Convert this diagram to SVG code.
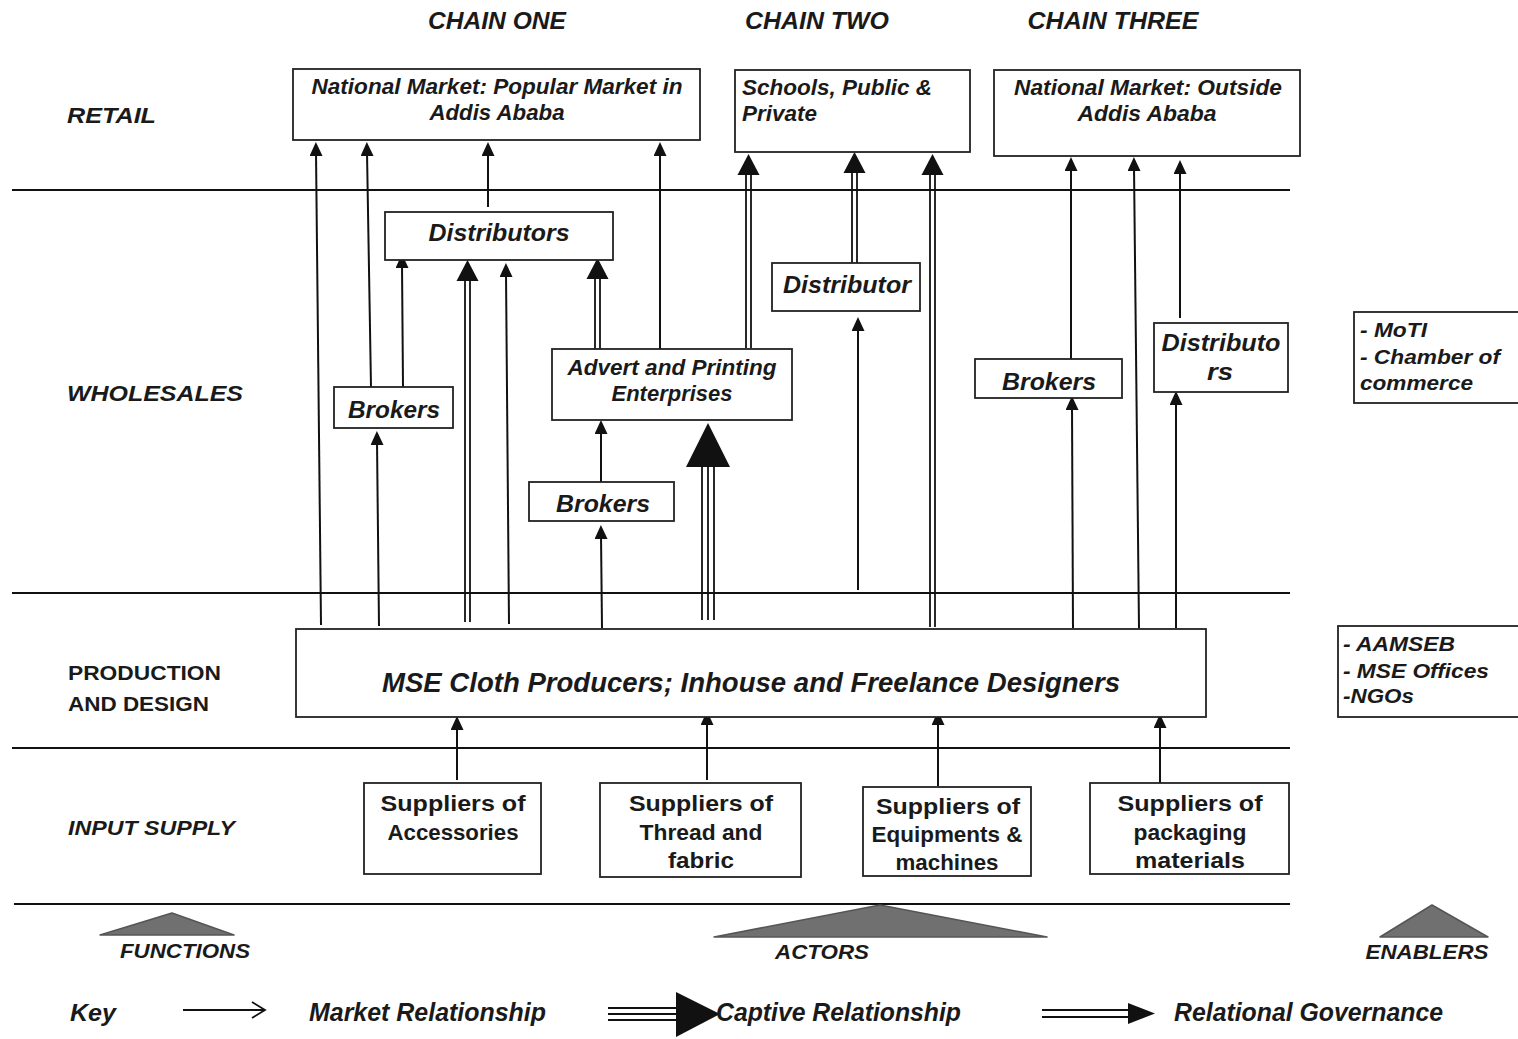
<svg xmlns="http://www.w3.org/2000/svg" xmlns:xlink="http://www.w3.org/1999/xlink" width="1518" height="1039" viewBox="0 0 1518 1039">
<defs>
<style>
text{font-family:"Liberation Sans",Arial,sans-serif;font-weight:bold;fill:#1a1a1a}
.i{font-style:italic}
.m{text-anchor:middle}
.box{fill:#fff;stroke:#222;stroke-width:1.8}
.sep{stroke:#111;stroke-width:2}
.ln{stroke:#111;stroke-width:2;fill:none}
.lt{stroke:#111;stroke-width:1.8;fill:none}
.tri{fill:#707070;stroke:#555;stroke-width:1.5;stroke-linejoin:round}
.ah{fill:#111}
</style>
<marker id="arr" viewBox="0 0 14 13" refX="4" refY="6.5" markerWidth="14" markerHeight="13" orient="auto" markerUnits="userSpaceOnUse"><path d="M0,0 L14,6.5 L0,13 z" fill="#111"/></marker>
<path id="ahm" d="M0,0 L-11,21 L11,21 z"/>
<path id="ahl" d="M0,0 L-22,44 L22,44 z"/>
</defs>
<rect width="1518" height="1039" fill="#fff"/>

<g id="headers">
<text class="i m" x="497" y="29" font-size="24" textLength="138" lengthAdjust="spacingAndGlyphs">CHAIN ONE</text>
<text class="i m" x="817" y="29" font-size="24" textLength="144" lengthAdjust="spacingAndGlyphs">CHAIN TWO</text>
<text class="i m" x="1113" y="29" font-size="24" textLength="171" lengthAdjust="spacingAndGlyphs">CHAIN THREE</text>
</g>

<g id="row-labels">
<text class="i" x="67" y="123" font-size="22" textLength="89" lengthAdjust="spacingAndGlyphs">RETAIL</text>
<text class="i" x="67" y="401" font-size="22" textLength="176" lengthAdjust="spacingAndGlyphs">WHOLESALES</text>
<text x="68" y="680" font-size="21" textLength="153" lengthAdjust="spacingAndGlyphs">PRODUCTION</text>
<text x="68" y="711" font-size="21" textLength="141" lengthAdjust="spacingAndGlyphs">AND DESIGN</text>
<text class="i" x="68" y="835" font-size="21" textLength="167" lengthAdjust="spacingAndGlyphs">INPUT SUPPLY</text>
</g>

<g id="separators">
<line class="sep" x1="12" y1="190" x2="1290" y2="190"/>
<line class="sep" x1="12" y1="593" x2="1290" y2="593"/>
<line class="sep" x1="12" y1="748" x2="1290" y2="748"/>
<line class="sep" x1="14" y1="904" x2="1290" y2="904"/>
</g>

<g id="connectors">
<g class="ln" marker-end="url(#arr)">
<line x1="321" y1="625" x2="316" y2="152"/>
<line x1="371" y1="387" x2="367" y2="152"/>
<line x1="379" y1="626" x2="377" y2="441"/>
<line x1="403" y1="387" x2="402" y2="264"/>
<line x1="488" y1="207" x2="488" y2="152"/>
<line x1="509" y1="624" x2="506" y2="273"/>
<line x1="660" y1="349" x2="660" y2="152"/>
<line x1="601" y1="482" x2="601" y2="430"/>
<line x1="602" y1="628" x2="601" y2="535"/>
<line x1="858" y1="590" x2="858" y2="327"/>
<line x1="1071" y1="359" x2="1071" y2="167"/>
<line x1="1073" y1="628" x2="1072" y2="406"/>
<line x1="1139" y1="628" x2="1134" y2="167"/>
<line x1="1180" y1="318" x2="1180" y2="170"/>
<line x1="1176" y1="628" x2="1176" y2="401"/>
<line x1="457" y1="780" x2="457" y2="726"/>
<line x1="707" y1="780" x2="707" y2="721"/>
<line x1="938" y1="786" x2="938" y2="721"/>
<line x1="1160" y1="783" x2="1160" y2="724"/>
</g>
<g class="lt">
<line x1="465" y1="622" x2="465" y2="280"/><line x1="470" y1="622" x2="470" y2="280"/>
<line x1="595" y1="349" x2="595" y2="279"/><line x1="600" y1="349" x2="600" y2="279"/>
<line x1="746" y1="348" x2="746" y2="174"/><line x1="751" y1="348" x2="751" y2="174"/>
<line x1="852" y1="266" x2="852" y2="172"/><line x1="857" y1="266" x2="857" y2="172"/>
<line x1="930" y1="627" x2="930" y2="174"/><line x1="935" y1="627" x2="935" y2="174"/>
</g>
<g class="ah">
<use xlink:href="#ahm" x="467.5" y="260"/>
<use xlink:href="#ahm" x="597.5" y="258"/>
<use xlink:href="#ahm" x="748.5" y="154"/>
<use xlink:href="#ahm" x="854.5" y="152"/>
<use xlink:href="#ahm" x="932.5" y="154"/>
</g>
<g class="lt" stroke-width="2.4">
<line x1="702" y1="620" x2="702" y2="466"/><line x1="708" y1="620" x2="708" y2="466"/><line x1="714" y1="620" x2="714" y2="466"/>
</g>
<use class="ah" xlink:href="#ahl" x="708" y="423"/>
</g>

<g id="n-popular-market">
<rect class="box" x="293" y="69" width="407" height="71"/>
<text class="i m" x="497" y="94" font-size="22" textLength="371" lengthAdjust="spacingAndGlyphs">National Market: Popular Market in</text>
<text class="i m" x="497" y="120" font-size="22" textLength="135" lengthAdjust="spacingAndGlyphs">Addis Ababa</text>
</g>
<g id="n-schools">
<rect class="box" x="735" y="70" width="235" height="82"/>
<text class="i" x="742" y="95" font-size="22" textLength="190" lengthAdjust="spacingAndGlyphs">Schools, Public &amp;</text>
<text class="i" x="742" y="121" font-size="22" textLength="75" lengthAdjust="spacingAndGlyphs">Private</text>
</g>
<g id="n-outside-market">
<rect class="box" x="994" y="70" width="306" height="86"/>
<text class="i m" x="1148" y="95" font-size="22" textLength="268" lengthAdjust="spacingAndGlyphs">National Market: Outside</text>
<text class="i m" x="1147" y="121" font-size="22" textLength="139" lengthAdjust="spacingAndGlyphs">Addis Ababa</text>
</g>
<g id="n-distributors">
<rect class="box" x="385" y="212" width="228" height="48"/>
<text class="i m" x="499" y="241" font-size="24" textLength="141" lengthAdjust="spacingAndGlyphs">Distributors</text>
</g>
<g id="n-distributor">
<rect class="box" x="772" y="263" width="148" height="48"/>
<text class="i m" x="847" y="293" font-size="24" textLength="128" lengthAdjust="spacingAndGlyphs">Distributor</text>
</g>
<g id="n-brokers-1">
<rect class="box" x="334" y="387" width="119" height="41"/>
<text class="i m" x="394" y="418" font-size="24" textLength="92" lengthAdjust="spacingAndGlyphs">Brokers</text>
</g>
<g id="n-advert">
<rect class="box" x="552" y="349" width="240" height="71"/>
<text class="i m" x="672" y="375" font-size="22" textLength="209" lengthAdjust="spacingAndGlyphs">Advert and Printing</text>
<text class="i m" x="672" y="401" font-size="22" textLength="121" lengthAdjust="spacingAndGlyphs">Enterprises</text>
</g>
<g id="n-brokers-2">
<rect class="box" x="529" y="482" width="145" height="39"/>
<text class="i m" x="603" y="512" font-size="24" textLength="94" lengthAdjust="spacingAndGlyphs">Brokers</text>
</g>
<g id="n-brokers-3">
<rect class="box" x="975" y="359" width="147" height="39"/>
<text class="i m" x="1049" y="390" font-size="24" textLength="94" lengthAdjust="spacingAndGlyphs">Brokers</text>
</g>
<g id="n-distributors-3">
<rect class="box" x="1154" y="323" width="134" height="69"/>
<text class="i m" x="1221" y="351" font-size="24" textLength="119" lengthAdjust="spacingAndGlyphs">Distributo</text>
<text class="i m" x="1220" y="380" font-size="24" textLength="26" lengthAdjust="spacingAndGlyphs">rs</text>
</g>
<g id="n-enablers-wholesale">
<rect class="box" x="1354" y="312" width="170" height="91"/>
<text class="i" x="1360" y="337" font-size="21" textLength="67" lengthAdjust="spacingAndGlyphs">- MoTI</text>
<text class="i" x="1360" y="364" font-size="21" textLength="140" lengthAdjust="spacingAndGlyphs">- Chamber of</text>
<text class="i" x="1360" y="390" font-size="21" textLength="113" lengthAdjust="spacingAndGlyphs">commerce</text>
</g>
<g id="n-mse">
<rect class="box" x="296" y="629" width="910" height="88"/>
<text class="i m" x="751" y="692" font-size="27" textLength="738" lengthAdjust="spacingAndGlyphs">MSE Cloth Producers; Inhouse and Freelance Designers</text>
</g>
<g id="n-enablers-production">
<rect class="box" x="1338" y="626" width="186" height="91"/>
<text class="i" x="1343" y="651" font-size="21" textLength="112" lengthAdjust="spacingAndGlyphs">- AAMSEB</text>
<text class="i" x="1343" y="678" font-size="21" textLength="146" lengthAdjust="spacingAndGlyphs">- MSE Offices</text>
<text class="i" x="1343" y="703" font-size="21" textLength="71" lengthAdjust="spacingAndGlyphs">-NGOs</text>
</g>
<g id="n-sup-accessories">
<rect class="box" x="364" y="783" width="177" height="91"/>
<text class="m" x="453" y="811" font-size="22" textLength="145" lengthAdjust="spacingAndGlyphs">Suppliers of</text>
<text class="m" x="453" y="840" font-size="22" textLength="131" lengthAdjust="spacingAndGlyphs">Accessories</text>
</g>
<g id="n-sup-thread">
<rect class="box" x="600" y="783" width="201" height="94"/>
<text class="m" x="701" y="811" font-size="22" textLength="144" lengthAdjust="spacingAndGlyphs">Suppliers of</text>
<text class="m" x="701" y="840" font-size="22" textLength="123" lengthAdjust="spacingAndGlyphs">Thread and</text>
<text class="m" x="701" y="868" font-size="22" textLength="66" lengthAdjust="spacingAndGlyphs">fabric</text>
</g>
<g id="n-sup-equipment">
<rect class="box" x="863" y="787" width="168" height="89"/>
<text class="m" x="948" y="814" font-size="22" textLength="144" lengthAdjust="spacingAndGlyphs">Suppliers of</text>
<text class="m" x="947" y="842" font-size="22" textLength="151" lengthAdjust="spacingAndGlyphs">Equipments &amp;</text>
<text class="m" x="947" y="870" font-size="22" textLength="103" lengthAdjust="spacingAndGlyphs">machines</text>
</g>
<g id="n-sup-packaging">
<rect class="box" x="1090" y="783" width="199" height="91"/>
<text class="m" x="1190" y="811" font-size="22" textLength="145" lengthAdjust="spacingAndGlyphs">Suppliers of</text>
<text class="m" x="1190" y="840" font-size="22" textLength="113" lengthAdjust="spacingAndGlyphs">packaging</text>
<text class="m" x="1190" y="868" font-size="22" textLength="110" lengthAdjust="spacingAndGlyphs">materials</text>
</g>

<g id="legend-triangles">
<polygon class="tri" points="100,935 172,913 234,935"/>
<text class="i m" x="185" y="958" font-size="21" textLength="130" lengthAdjust="spacingAndGlyphs">FUNCTIONS</text>
<polygon class="tri" points="714,937 880,905 1047,937"/>
<text class="i m" x="822" y="959" font-size="21" textLength="94" lengthAdjust="spacingAndGlyphs">ACTORS</text>
<polygon class="tri" points="1380,937 1432,905 1488,937"/>
<text class="i m" x="1427" y="959" font-size="21" textLength="123" lengthAdjust="spacingAndGlyphs">ENABLERS</text>
</g>

<g id="key">
<text class="i" x="70" y="1021" font-size="24" textLength="46" lengthAdjust="spacingAndGlyphs">Key</text>
<line class="lt" x1="183" y1="1010" x2="265" y2="1010"/>
<polyline class="lt" points="252,1002 265,1010 252,1018"/>
<text class="i" x="309" y="1021" font-size="25" textLength="237" lengthAdjust="spacingAndGlyphs">Market Relationship</text>
<g class="lt" stroke-width="2.4">
<line x1="608" y1="1008" x2="682" y2="1008"/><line x1="608" y1="1014" x2="682" y2="1014"/><line x1="608" y1="1020" x2="682" y2="1020"/>
</g>
<polygon class="ah" points="676,992 720,1014 676,1037"/>
<text class="i" x="716" y="1021" font-size="25" textLength="245" lengthAdjust="spacingAndGlyphs">Captive Relationship</text>
<g class="lt">
<line x1="1042" y1="1010" x2="1132" y2="1010"/><line x1="1042" y1="1017" x2="1132" y2="1017"/>
</g>
<polygon class="ah" points="1128,1003 1155,1013.5 1128,1024"/>
<text class="i" x="1174" y="1021" font-size="25" textLength="269" lengthAdjust="spacingAndGlyphs">Relational Governance</text>
</g>
</svg>
